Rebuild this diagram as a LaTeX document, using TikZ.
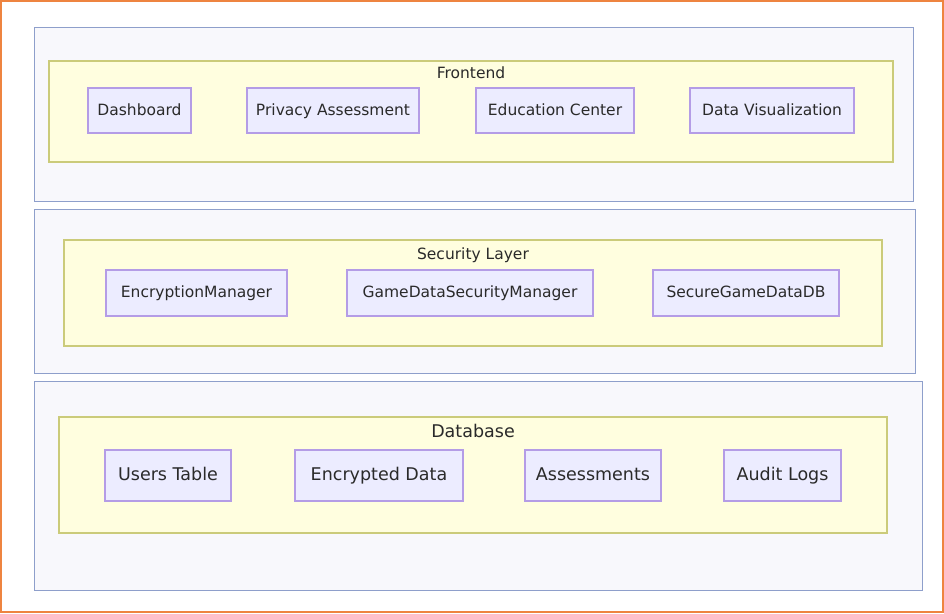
\documentclass[tikz,border=0pt]{standalone}
\usepackage{fontspec}
\setmainfont{DejaVu Sans}
\usepackage{xcolor}
\usepackage{tikz}

\definecolor{frameorange}{HTML}{EE8440}
\definecolor{layerline}{HTML}{8E9FCB}
\definecolor{layerfill}{HTML}{F8F8FC}
\definecolor{groupline}{HTML}{CBCB7A}
\definecolor{groupfill}{HTML}{FFFEDF}
\definecolor{compline}{HTML}{B49CE6}
\definecolor{compfill}{HTML}{ECECFF}
\definecolor{textgrey}{HTML}{2A2A2A}

\begin{document}
\begin{tikzpicture}[x=1pt, y=-1pt,
  layer/.style={draw=layerline, fill=layerfill, line width=1pt},
  group/.style={draw=groupline, fill=groupfill, line width=1.5pt},
  comp/.style={draw=compline, fill=compfill, line width=1.5pt, inner sep=0pt, text=textgrey},
  small/.style={font=\fontsize{15.5}{18}\selectfont, text height=0.9em, text depth=0em},
  big/.style={font=\fontsize{17.5}{20}\selectfont, text height=0.9em, text depth=0em}]
\useasboundingbox (0,0) rectangle (944,613);
\fill[white] (0,0) rectangle (944,613);
\draw[frameorange, line width=2.5pt] (1.2,1.2) rectangle (942.8,611.8);

\draw[layer] (34,27) rectangle (913,201);
\draw[group] (49,61) rectangle (893,162);
\node[small, text=textgrey] (frontend) at (471,74) {Frontend};
\node[comp, small, minimum width=103, minimum height=45] (dashboard) at (139.5,110.5) {Dashboard};
\node[comp, small, minimum width=172, minimum height=45] (privacy) at (333,110.5) {Privacy Assessment};
\node[comp, small, minimum width=158, minimum height=45] (education) at (555,110.5) {Education Center};
\node[comp, small, minimum width=164, minimum height=45] (dataviz) at (772,110.5) {Data Visualization};

\draw[layer] (34,209) rectangle (915,373);
\draw[group] (64,240) rectangle (882,346);
\node[small, text=textgrey] (security) at (473,255) {Security Layer};
\node[comp, small, minimum width=181, minimum height=46] (encmgr) at (196.5,293) {EncryptionManager};
\node[comp, small, minimum width=246, minimum height=46] (gdsecmgr) at (470,293) {GameDataSecurityManager};
\node[comp, small, minimum width=186, minimum height=46] (securedb) at (746,293) {SecureGameDataDB};

\draw[layer] (34,381) rectangle (922,590);
\draw[group] (59,417) rectangle (887,533);
\node[big, text=textgrey] (database) at (473,433) {Database};
\node[comp, big, minimum width=126, minimum height=51] (users) at (168,475.5) {Users Table};
\node[comp, big, minimum width=168, minimum height=51] (encdata) at (379,475.5) {Encrypted Data};
\node[comp, big, minimum width=136, minimum height=51] (assess) at (593,475.5) {Assessments};
\node[comp, big, minimum width=117, minimum height=51] (audit) at (782.5,475.5) {Audit Logs};
\end{tikzpicture}
\end{document}
